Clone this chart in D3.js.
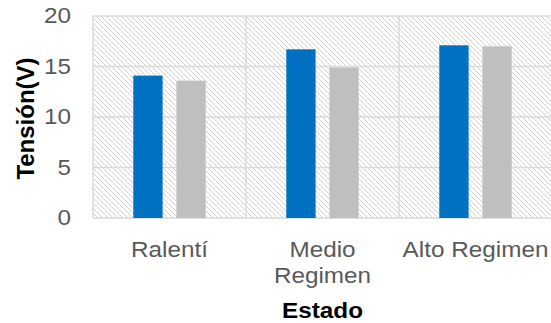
<!DOCTYPE html>
<html>
<head>
<meta charset="utf-8">
<script src="https://cdn.jsdelivr.net/npm/d3@7"></script>
<style>
  html, body { margin: 0; padding: 0; background: #fff; }
  svg { display: block; font-family: "Liberation Sans", Arial, sans-serif; }
</style>
</head>
<body>
<svg id="chart" width="551" height="323"></svg>
<script>
// Tensión por estado del motor
const categories = ["Ralentí", "Medio Regimen", "Alto Regimen"];
const categoryLines = [["Ralentí"], ["Medio", "Regimen"], ["Alto Regimen"]];
const seriesNames = ["Serie 1", "Serie 2"];
const serie1 = [14.1, 16.7, 17.1];
const serie2 = [13.6, 14.9, 17.0];
const yTicks = [0, 5, 10, 15, 20];
const colors = ["#0070C0", "#BFBFBF"];

const svg = d3.select("#chart");
const plot = { left: 93, top: 16, right: 552, bottom: 218 };
const stretch = 1.13; // wide letterforms of the labels

const x0 = d3.scaleBand().domain(categories).range([plot.left, plot.right]).padding(0);
const x1 = d3.scaleBand().domain(seriesNames)
  .range([40.3, x0.bandwidth() - 40.3]).paddingInner(0.32).paddingOuter(0);
const y = d3.scaleLinear().domain([0, 20]).range([plot.bottom, plot.top]);

// diagonal hatch for the plot background
const defs = svg.append("defs");
const P = 5;
const pat = defs.append("pattern").attr("id", "hatch")
  .attr("patternUnits", "userSpaceOnUse").attr("width", P).attr("height", P);
pat.append("rect").attr("width", P).attr("height", P).attr("fill", "#fff");
pat.append("path").attr("d", `M-1,-1 L${P + 1},${P + 1} M-1,${P - 1} L1,${P + 1} M${P - 1},-1 L${P + 1},1`)
  .attr("stroke", "#d2d2d2").attr("stroke-width", 1);

svg.append("rect")
  .attr("x", plot.left).attr("y", plot.top)
  .attr("width", plot.right - plot.left).attr("height", plot.bottom - plot.top)
  .attr("fill", "url(#hatch)");

// horizontal gridlines
svg.append("g").selectAll("line").data(yTicks).join("line")
  .attr("x1", plot.left).attr("x2", plot.right)
  .attr("y1", d => y(d)).attr("y2", d => y(d))
  .attr("stroke", "#d9d9d9").attr("stroke-width", 1.4);

// vertical category separators
svg.append("g").selectAll("line").data(categories).join("line")
  .attr("x1", d => x0(d)).attr("x2", d => x0(d))
  .attr("y1", plot.top).attr("y2", plot.bottom)
  .attr("stroke", "#d9d9d9").attr("stroke-width", 1.4);

// bars
const rows = categories.map((c, i) => ({ cat: c, vals: [serie1[i], serie2[i]] }));
svg.append("g").selectAll("g").data(rows).join("g")
  .attr("transform", d => `translate(${x0(d.cat)},0)`)
  .selectAll("rect").data(d => d.vals.map((v, j) => ({ v, s: seriesNames[j], j })))
  .join("rect")
  .attr("x", d => x1(d.s)).attr("width", x1.bandwidth())
  .attr("y", d => y(d.v)).attr("height", d => y(0) - y(d.v))
  .attr("fill", d => colors[d.j]);

// y axis labels
const yAxis = d3.axisLeft(y).tickValues(yTicks).tickSize(0).tickPadding(0);
const gy = svg.append("g").attr("transform", `translate(71,0)`).call(yAxis);
gy.select(".domain").remove();
gy.selectAll(".tick text").attr("x", 0)
  .attr("transform", `scale(${stretch},1)`)
  .attr("font-size", 21.5).attr("fill", "#595959")
  .attr("font-family", "'Liberation Sans', Arial, sans-serif");

// x axis labels
const gx = svg.append("g");
categories.forEach((c, i) => {
  const cx = x0(c) + x0.bandwidth() / 2;
  const t = gx.append("text")
    .attr("transform", `translate(${cx},257) scale(${stretch},1)`)
    .attr("text-anchor", "middle").attr("font-size", 21.5).attr("fill", "#595959");
  categoryLines[i].forEach((line, k) => {
    t.append("tspan").attr("x", 0).attr("dy", k === 0 ? 0 : 26).text(line);
  });
});

// axis titles
svg.append("text")
  .attr("transform", "translate(322.5,318) scale(1.08,1)")
  .attr("text-anchor", "middle").attr("font-size", 22.5).attr("font-weight", "bold")
  .attr("fill", "#000").text("Estado");

svg.append("text")
  .attr("transform", "translate(33.5,118.5) rotate(-90)")
  .attr("text-anchor", "middle").attr("font-size", 24).attr("font-weight", "bold")
  .attr("fill", "#000").text("Tensión(V)");
</script>
</body>
</html>
